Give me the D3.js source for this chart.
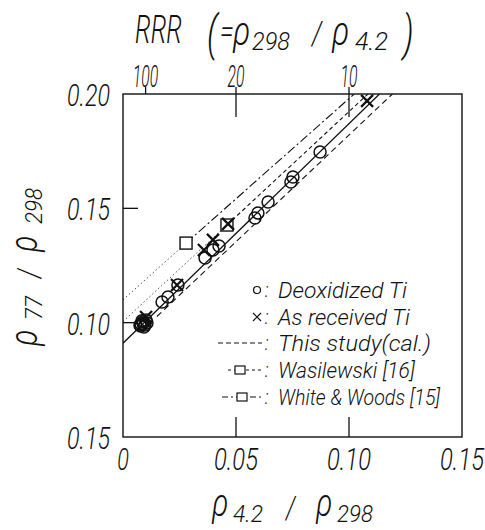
<!DOCTYPE html>
<html><head><meta charset="utf-8">
<script src="https://cdn.jsdelivr.net/npm/d3@7"></script>
<style>body{margin:0;background:#fff}</style>
</head><body>
<svg id="c" width="485" height="530"></svg>
<script>
// ---- data ----
const xTicks = [0, 0.05, 0.10, 0.15];
const xTickLabels = ["0", "0.05", "0.10", "0.15"];
const yTicks = [0.05, 0.10, 0.15, 0.20];
const yTickLabels = ["0.15", "0.10", "0.15", "0.20"];
const rrrTicks = [100, 20, 10];

// Deoxidized Ti (circles)
const deoxX = [0.0075, 0.0080, 0.0088, 0.0093, 0.0102, 0.0106, 0.0084, 0.0097, 0.0090, 0.0078,
               0.0173, 0.0199, 0.0243, 0.0363, 0.0398, 0.0425,
               0.0584, 0.0597, 0.0642, 0.0743, 0.0752, 0.0872];
const deoxY = [0.0990, 0.0994, 0.1003, 0.0981, 0.1012, 0.0999, 0.1008, 0.0990, 0.0996, 0.0985,
               0.1090, 0.1112, 0.1165, 0.1283, 0.1318, 0.1335,
               0.1458, 0.1480, 0.1528, 0.1615, 0.1637, 0.1746];
// As received Ti (crosses)
const recvX = [0.0102, 0.0239, 0.0358, 0.0398, 0.0465, 0.1080];
const recvY = [0.1025, 0.1165, 0.1318, 0.1362, 0.1432, 0.1970];
// reference points (squares)
const wasX = [0.0460], wasY = [0.1427];   // Wasilewski [16]
const wwX = [0.0279], wwY = [0.1348];     // White & Woods [15]
// lines
const fitLineX = [0, 0.1135], fitLineY = [0.091, 0.200];
const calLineX = [0.015, 0.1192], calLineY = [0.1027, 0.200];
const wasLineX = [0, 0.0460, 0.1084], wasLineY = [0.1005, 0.1427, 0.200];
const wwLineX = [0, 0.0279, 0.1023], wwLineY = [0.1100, 0.1348, 0.200];

const legendLabels = ["Deoxidized Ti", "As received Ti", "This study(cal.)", "Wasilewski [16]", "White & Woods [15]"];

// ---- chart ----
const svg = d3.select("#c");
const L = 123, R = 462, T = 94, B = 437;
const x = d3.scaleLinear().domain([0, 0.15]).range([L, R]);
const y = d3.scaleLinear().domain([0.05, 0.20]).range([B, T]);
const FONT = "Roboto, 'Open Sans', sans-serif";

// w <= 2 : horizontal scale factor ; w > 2 : target width in px
function label(px, py, s, size, w, anchor, rot) {
  const g = svg.append("g");
  const t = g.append("text").attr("text-anchor", anchor || "start")
    .attr("font-family", FONT).attr("font-style", "italic").attr("font-weight", 300)
    .attr("font-size", size).attr("fill", "#111").text(s);
  let sx = w;
  if (w > 2) { const n = t.node().getComputedTextLength(); sx = n > 0 ? w / n : 1; }
  g.attr("transform", `translate(${px},${py})` + (rot ? ` rotate(${rot})` : "") + ` scale(${sx},1)`);
  return t;
}

// clip
svg.append("clipPath").attr("id", "pc").append("rect")
  .attr("x", L).attr("y", T).attr("width", R - L).attr("height", B - T);

const plot = svg.append("g").attr("clip-path", "url(#pc)");
const line = d3.line().x(d => x(d[0])).y(d => y(d[1]));
const zip = (a, b) => a.map((v, i) => [v, b[i]]);

// reference lines: dotted below the point, styled above
function refLine(xs, ys, dash) {
  const pts = zip(xs, ys);
  plot.append("path").attr("d", line(pts.slice(0, 2))).attr("fill", "none")
    .attr("stroke", "#555").attr("stroke-width", 1).attr("stroke-dasharray", "1.5,2.5");
  plot.append("path").attr("d", line(pts.slice(1))).attr("fill", "none")
    .attr("stroke", "#111").attr("stroke-width", 1.1).attr("stroke-dasharray", dash);
}
refLine(wwLineX, wwLineY, "9,3,2,3");
refLine(wasLineX, wasLineY, "4,3");

plot.append("path").attr("d", line(zip(fitLineX, fitLineY))).attr("fill", "none")
  .attr("stroke", "#111").attr("stroke-width", 1.3);
plot.append("path").attr("d", line(zip(calLineX, calLineY))).attr("fill", "none")
  .attr("stroke", "#111").attr("stroke-width", 1.1).attr("stroke-dasharray", "6,4");

// squares
function squares(xs, ys) {
  plot.selectAll(null).data(zip(xs, ys)).enter().append("rect")
    .attr("x", d => x(d[0]) - 6).attr("y", d => y(d[1]) - 6)
    .attr("width", 12).attr("height", 12)
    .attr("fill", "#fff").attr("stroke", "#111").attr("stroke-width", 1.4);
}
squares(wwX, wwY);
squares(wasX, wasY);

// circles
plot.selectAll(null).data(zip(deoxX, deoxY)).enter().append("circle")
  .attr("cx", d => x(d[0])).attr("cy", d => y(d[1])).attr("r", 6)
  .attr("fill", "none").attr("stroke", "#111").attr("stroke-width", 1.5);

// crosses
const cross = (d, s) => `M${x(d[0]) - s},${y(d[1]) - s}L${x(d[0]) + s},${y(d[1]) + s}M${x(d[0]) - s},${y(d[1]) + s}L${x(d[0]) + s},${y(d[1]) - s}`;
plot.selectAll(null).data(zip(recvX, recvY)).enter().append("path")
  .attr("d", d => cross(d, 6)).attr("stroke", "#111").attr("stroke-width", 2.2).attr("fill", "none");

// frame
svg.append("rect").attr("x", L).attr("y", T).attr("width", R - L).attr("height", B - T)
  .attr("fill", "none").attr("stroke", "#111").attr("stroke-width", 1.4);

// ticks
const tk = svg.append("g").attr("stroke", "#111").attr("stroke-width", 1.3);
xTicks.filter(v => v > 0 && v < 0.15).forEach(v =>
  tk.append("line").attr("x1", x(v)).attr("x2", x(v)).attr("y1", B).attr("y2", B - 20));
yTicks.filter(v => v > 0.05 && v < 0.20).forEach(v =>
  tk.append("line").attr("x1", L).attr("x2", L + 15).attr("y1", y(v)).attr("y2", y(v)));
rrrTicks.forEach(r =>
  tk.append("line").attr("x1", x(1 / r)).attr("x2", x(1 / r))
    .attr("y1", T - 7).attr("y2", r === 100 ? T : T + 23));

// tick labels
xTicks.forEach((v, i) => label(x(v), 470, xTickLabels[i], 31, xTickLabels[i].length === 1 ? 0.7 : 44, "middle"));
yTicks.forEach((v, i) => label(110, y(v) + 12, yTickLabels[i], 31, 43, "end"));
rrrTicks.forEach(r => label(x(1 / r), 87, String(r), 31, String(r).length * 8.5, "middle"));

// top title: RRR (= rho298 / rho4.2)
label(135, 43, "RRR", 39, 47);
label(207, 50, "(", 48, 0.7);
label(220, 43, "=", 34, 0.75);
label(233, 45, "ρ", 40, 0.8);
label(252, 50, "298", 25, 38);
label(312, 45, "/", 34, 0.75);
label(332, 45, "ρ", 40, 0.8);
label(355, 50, "4.2", 25, 33);
label(403, 50, ")", 48, 0.7);

// bottom title: rho4.2 / rho298
label(212, 516, "ρ", 38, 0.8);
label(233, 522, "4.2", 23, 30);
label(286, 518, "/", 32, 0.75);
label(316, 516, "ρ", 38, 0.8);
label(337, 522, "298", 23, 36);

// y title: rho77 / rho298 (rotated)
label(37, 346, "ρ", 38, 0.8, "start", -90);
label(42, 320, "77", 23, 24, "start", -90);
label(39, 278, "/", 32, 0.75, "start", -90);
label(37, 252, "ρ", 38, 0.8, "start", -90);
label(42, 224, "298", 23, 36, "start", -90);

// legend
const rowY = [290, 317, 343, 370, 397];
const lg = svg.append("g");
lg.append("circle").attr("cx", 257).attr("cy", rowY[0]).attr("r", 3.5)
  .attr("fill", "none").attr("stroke", "#111").attr("stroke-width", 1.2);
lg.append("path").attr("d", `M253,${rowY[1] - 4}L261,${rowY[1] + 4}M253,${rowY[1] + 4}L261,${rowY[1] - 4}`)
  .attr("stroke", "#111").attr("stroke-width", 1.2);
lg.append("line").attr("x1", 218).attr("x2", 262).attr("y1", rowY[2]).attr("y2", rowY[2])
  .attr("stroke", "#111").attr("stroke-width", 1).attr("stroke-dasharray", "5,3");
lg.append("line").attr("x1", 228).attr("x2", 262).attr("y1", rowY[3]).attr("y2", rowY[3])
  .attr("stroke", "#111").attr("stroke-width", 1).attr("stroke-dasharray", "3,3");
lg.append("rect").attr("x", 235).attr("y", rowY[3] - 4).attr("width", 10).attr("height", 8)
  .attr("fill", "#fff").attr("stroke", "#111").attr("stroke-width", 1.2);
lg.append("line").attr("x1", 222).attr("x2", 262).attr("y1", rowY[4]).attr("y2", rowY[4])
  .attr("stroke", "#111").attr("stroke-width", 1).attr("stroke-dasharray", "6,3,2,3");
lg.append("rect").attr("x", 237).attr("y", rowY[4] - 4).attr("width", 10).attr("height", 8)
  .attr("fill", "#fff").attr("stroke", "#111").attr("stroke-width", 1.2);
const legW = [129, 132, 153, 137, 162];
legendLabels.forEach((s, i) => {
  label(265, rowY[i] + 7, ":", 21, 0.8);
  label(278, rowY[i] + 8, s, 22, legW[i]);
});
</script>
</body></html>
